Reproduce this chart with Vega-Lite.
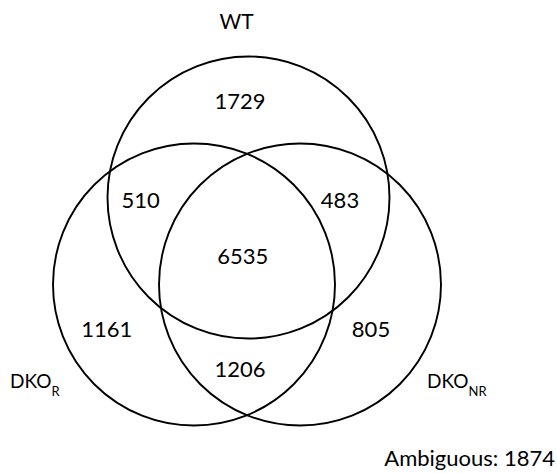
{
  "$schema": "https://vega.github.io/schema/vega-lite/v6.json",
  "width": 557,
  "height": 473,
  "padding": 0,
  "autosize": {"type": "none"},
  "background": "white",
  "config": {"view": {"stroke": null}, "text": {"font": "Lato", "color": "black"}},
  "datasets": {
    "sets": [
      {"set": "WT", "cx": 0.015, "cy": 0.87},
      {"set": "DKO_R", "cx": -0.53, "cy": 0},
      {"set": "DKO_NR", "cx": 0.53, "cy": 0}
    ],
    "regions": [
      {"region": "WT only", "count": 1729, "px": -0.07, "py": 1.828},
      {"region": "WT & DKO_R", "count": 510, "px": -1.064, "py": 0.835},
      {"region": "WT & DKO_NR", "count": 483, "px": 0.93, "py": 0.835},
      {"region": "All", "count": 6535, "px": -0.043, "py": 0.278},
      {"region": "DKO_R only", "count": 1161, "px": -1.402, "py": -0.455},
      {"region": "DKO_NR only", "count": 805, "px": 1.24, "py": -0.455},
      {"region": "DKO_R & DKO_NR", "count": 1206, "px": -0.07, "py": -0.855}
    ],
    "labels": [
      {"main": "DKO", "sub": "R", "lx": -2.37, "ly": -0.975, "sx": -1.955, "sy": -1.07},
      {"main": "DKO", "sub": "NR", "lx": 1.8, "ly": -0.975, "sx": 2.215, "sy": -1.07}
    ],
    "title": [
      {"name": "WT", "tx": -0.103, "ty": 2.618}
    ],
    "note": [
      {"text": "Ambiguous: 1874", "nx": 3.08, "ny": -1.745}
    ]
  },
  "layer": [
    {
      "data": {"name": "sets"},
      "mark": {"type": "point", "shape": "circle", "size": 79524, "filled": false, "stroke": "black", "strokeWidth": 1.9, "opacity": 1},
      "encoding": {
        "x": {"field": "cx", "type": "quantitative", "scale": {"domain": [-2.47, 3.1], "nice": false, "zero": false}, "axis": null},
        "y": {"field": "cy", "type": "quantitative", "scale": {"domain": [-1.885, 2.845], "nice": false, "zero": false}, "axis": null}
      }
    },
    {
      "data": {"name": "regions"},
      "mark": {"type": "text", "fontSize": 22, "align": "center", "baseline": "middle"},
      "encoding": {
        "x": {"field": "px", "type": "quantitative"},
        "y": {"field": "py", "type": "quantitative"},
        "text": {"field": "count", "type": "quantitative", "format": "d"}
      }
    },
    {
      "data": {"name": "title"},
      "mark": {"type": "text", "fontSize": 21, "align": "center", "baseline": "middle"},
      "encoding": {
        "x": {"field": "tx", "type": "quantitative"},
        "y": {"field": "ty", "type": "quantitative"},
        "text": {"field": "name"}
      }
    },
    {
      "data": {"name": "labels"},
      "mark": {"type": "text", "fontSize": 19, "align": "left", "baseline": "middle"},
      "encoding": {
        "x": {"field": "lx", "type": "quantitative"},
        "y": {"field": "ly", "type": "quantitative"},
        "text": {"field": "main"}
      }
    },
    {
      "data": {"name": "labels"},
      "mark": {"type": "text", "fontSize": 13, "align": "left", "baseline": "middle"},
      "encoding": {
        "x": {"field": "sx", "type": "quantitative"},
        "y": {"field": "sy", "type": "quantitative"},
        "text": {"field": "sub"}
      }
    },
    {
      "data": {"name": "note"},
      "mark": {"type": "text", "fontSize": 22, "align": "right", "baseline": "middle"},
      "encoding": {
        "x": {"field": "nx", "type": "quantitative"},
        "y": {"field": "ny", "type": "quantitative"},
        "text": {"field": "text"}
      }
    }
  ]
}
